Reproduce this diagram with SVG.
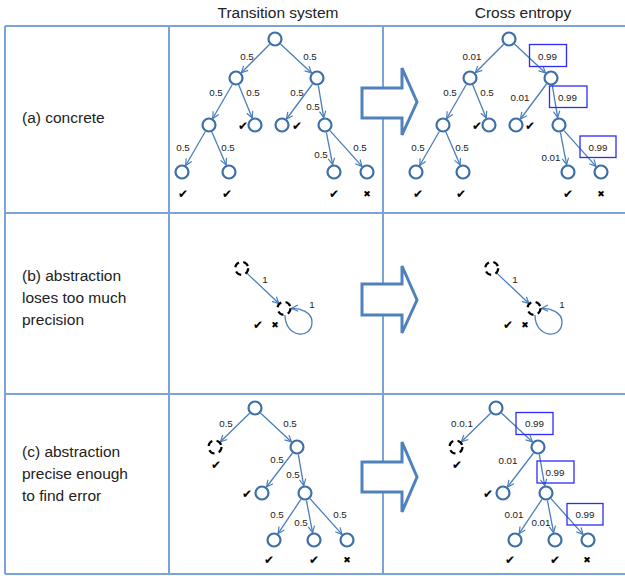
<svg xmlns="http://www.w3.org/2000/svg" width="625" height="576" viewBox="0 0 625 576">
<style>
.grid{stroke:#7aa3d8;stroke-width:2;fill:none}
.n{fill:#fff;stroke:#3d6fa8;stroke-width:2.2}
.d{fill:#fff;stroke:#000;stroke-width:2.2;stroke-dasharray:6 4.5}
.e{stroke:#4a7ebb;stroke-width:1.3;fill:none;marker-end:url(#ah)}
.big{fill:#fff;stroke:#4f81bd;stroke-width:3;stroke-linejoin:miter}
.box{fill:none;stroke:#2b2bff;stroke-width:1.3}
text{font-family:"Liberation Sans",Arial,sans-serif;fill:#222}
.hd{font-size:15.5px;text-anchor:middle}
.rl{font-size:15.5px}
.p{font-size:9.8px;text-anchor:middle}
.ck{font-family:"DejaVu Sans",sans-serif;font-size:12px;text-anchor:middle;fill:#000}
.x{font-family:"DejaVu Sans",sans-serif;font-size:9px;text-anchor:middle;fill:#000}
</style>
<defs>
<marker id="ah" markerUnits="userSpaceOnUse" markerWidth="10" markerHeight="10" refX="7.5" refY="4" orient="auto">
<path d="M1,0.8 L7.5,4 L1,7.2" fill="none" stroke="#4a7ebb" stroke-width="1.2"/>
</marker>
</defs>

<g id="table">
<line class="grid" x1="5" y1="26" x2="625" y2="26"/>
<line class="grid" x1="5" y1="213" x2="625" y2="213"/>
<line class="grid" x1="5" y1="394" x2="625" y2="394"/>
<line class="grid" x1="5" y1="574" x2="625" y2="574"/>
<line class="grid" x1="5" y1="26" x2="5" y2="574"/>
<line class="grid" x1="169" y1="26" x2="169" y2="574"/>
<line class="grid" x1="383" y1="26" x2="383" y2="574"/>
</g>

<g id="headers">
<text class="hd" x="278" y="18">Transition system</text>
<text class="hd" x="523" y="18">Cross entropy</text>
</g>

<g id="row-labels">
<text class="rl" x="22" y="123">(a) concrete</text>
<text class="rl" x="22" y="281">(b) abstraction</text>
<text class="rl" x="22" y="303">loses too much</text>
<text class="rl" x="22" y="325">precision</text>
<text class="rl" x="22" y="457">(c) abstraction</text>
<text class="rl" x="22" y="479">precise enough</text>
<text class="rl" x="22" y="501">to find error</text>
</g>

<g id="big-arrows">
<path class="big" d="M362,88 L402,88 L402,68 L417,102 L402,135 L402,118 L362,118 Z"/>
<path class="big" d="M362,284 L402,284 L402,266 L417,300 L402,333 L402,315 L362,315 Z"/>
<path class="big" d="M362,462 L402,462 L402,442 L417,477 L402,512 L402,492 L362,492 Z"/>
</g>

<g id="connectors">
<line class="e" x1="269.7" y1="44.3" x2="241.3" y2="72.7"/>
<line class="e" x1="280.5" y1="44.1" x2="311.5" y2="72.9"/>
<line class="e" x1="232.3" y1="84.5" x2="212.7" y2="118.5"/>
<line class="e" x1="238.8" y1="85" x2="252.2" y2="118"/>
<line class="e" x1="312.5" y1="84" x2="286.5" y2="119"/>
<line class="e" x1="318.3" y1="85.4" x2="323.7" y2="117.6"/>
<line class="e" x1="205.3" y1="131.5" x2="185.7" y2="165.5"/>
<line class="e" x1="211.9" y1="131.9" x2="226.1" y2="165.1"/>
<line class="e" x1="326.4" y1="132.4" x2="332.6" y2="164.6"/>
<line class="e" x1="330" y1="130.6" x2="362" y2="166.4"/>
<line class="e" x1="503.7" y1="44.3" x2="475.3" y2="72.7"/>
<line class="e" x1="514.5" y1="44.1" x2="545.5" y2="72.9"/>
<line class="e" x1="466.3" y1="84.5" x2="446.7" y2="118.5"/>
<line class="e" x1="472.8" y1="85" x2="486.2" y2="118"/>
<line class="e" x1="546.5" y1="84" x2="520.5" y2="119"/>
<line class="e" x1="552.3" y1="85.4" x2="557.7" y2="117.6"/>
<line class="e" x1="439.3" y1="131.5" x2="419.7" y2="165.5"/>
<line class="e" x1="445.9" y1="131.9" x2="460.1" y2="165.1"/>
<line class="e" x1="560.4" y1="132.4" x2="566.6" y2="164.6"/>
<line class="e" x1="564" y1="130.6" x2="596" y2="166.4"/>
<line class="e" x1="246.8" y1="273.1" x2="278.9" y2="303.5"/>
<path class="e" d="M285,315 C285,338 312,340 312,322 C312,312 300,308 291.5,308.5"/>
<line class="e" x1="496.8" y1="273.1" x2="528.9" y2="303.5"/>
<path class="e" d="M535,315 C535,338 562,340 562,322 C562,312 550,308 541.5,308.5"/>
<line class="e" x1="249.6" y1="413.2" x2="220.4" y2="441.8"/>
<line class="e" x1="260.5" y1="413.1" x2="291.5" y2="441.9"/>
<line class="e" x1="292.5" y1="453" x2="266.5" y2="487"/>
<line class="e" x1="298.3" y1="454.4" x2="303.7" y2="485.6"/>
<line class="e" x1="300.9" y1="499.3" x2="278.1" y2="533.7"/>
<line class="e" x1="306.4" y1="500.4" x2="312.6" y2="532.6"/>
<line class="e" x1="310" y1="498.6" x2="342" y2="534.4"/>
<line class="e" x1="490.6" y1="413.2" x2="461.4" y2="441.8"/>
<line class="e" x1="501.5" y1="413.1" x2="532.5" y2="441.9"/>
<line class="e" x1="533.5" y1="453" x2="507.5" y2="487"/>
<line class="e" x1="539.3" y1="454.4" x2="544.7" y2="485.6"/>
<line class="e" x1="541.9" y1="499.3" x2="519.1" y2="533.7"/>
<line class="e" x1="547.4" y1="500.4" x2="553.6" y2="532.6"/>
<line class="e" x1="551" y1="498.6" x2="583" y2="534.4"/>
</g>

<g id="edge-labels">
<text class="p" x="247" y="59.5">0.5</text>
<text class="p" x="310" y="59.5">0.5</text>
<text class="p" x="216" y="95.5">0.5</text>
<text class="p" x="253" y="95.5">0.5</text>
<text class="p" x="297" y="95.5">0.5</text>
<text class="p" x="313" y="109.5">0.5</text>
<text class="p" x="183" y="150.5">0.5</text>
<text class="p" x="228" y="150.5">0.5</text>
<text class="p" x="321" y="157.5">0.5</text>
<text class="p" x="360" y="150.5">0.5</text>

<text class="p" x="472" y="59.5">0.01</text>
<rect class="box" x="529.5" y="44.5" width="37" height="22"/>
<text class="p" x="547.5" y="59.5">0.99</text>
<text class="p" x="450" y="95.5">0.5</text>
<text class="p" x="487" y="95.5">0.5</text>
<text class="p" x="520" y="100.5">0.01</text>
<rect class="box" x="549.5" y="86" width="37.5" height="21.5"/>
<text class="p" x="567.5" y="100.5">0.99</text>
<text class="p" x="418" y="150.5">0.5</text>
<text class="p" x="462" y="150.5">0.5</text>
<text class="p" x="551" y="160.5">0.01</text>
<rect class="box" x="580" y="136" width="36" height="21.5"/>
<text class="p" x="598" y="150.5">0.99</text>

<text class="p" x="265" y="282.5">1</text>
<text class="p" x="312" y="307.5">1</text>
<text class="p" x="515" y="282.5">1</text>
<text class="p" x="562" y="307.5">1</text>

<text class="p" x="226" y="426.5">0.5</text>
<text class="p" x="290" y="426.5">0.5</text>
<text class="p" x="277" y="462.5">0.5</text>
<text class="p" x="293" y="477.5">0.5</text>
<text class="p" x="277" y="517.5">0.5</text>
<text class="p" x="301" y="525.5">0.5</text>
<text class="p" x="340" y="517.5">0.5</text>

<text class="p" x="462" y="426.5">0.0.1</text>
<rect class="box" x="516" y="412.5" width="37" height="22"/>
<text class="p" x="534.5" y="426.5">0.99</text>
<text class="p" x="508" y="463.5">0.01</text>
<rect class="box" x="537" y="461" width="37" height="22"/>
<text class="p" x="555" y="475.5">0.99</text>
<text class="p" x="514" y="517.5">0.01</text>
<text class="p" x="541" y="525.5">0.01</text>
<rect class="box" x="567" y="503.5" width="36" height="21.5"/>
<text class="p" x="585" y="517.5">0.99</text>
</g>

<g id="marks">
<text class="ck" x="183" y="197.5">✔</text>
<text class="ck" x="227" y="197.5">✔</text>
<text class="ck" x="334" y="197.5">✔</text>
<text class="x" x="367" y="196.5">✖</text>
<text class="ck" x="243" y="129.5">✔</text>
<text class="ck" x="297" y="129.5">✔</text>
<text class="ck" x="418" y="197.5">✔</text>
<text class="ck" x="461" y="197.5">✔</text>
<text class="ck" x="568" y="197.5">✔</text>
<text class="x" x="601" y="196.5">✖</text>
<text class="ck" x="477" y="129.5">✔</text>
<text class="ck" x="530" y="129.5">✔</text>
<text class="ck" x="258" y="328.5">✔</text>
<text class="x" x="275" y="327.5">✖</text>
<text class="ck" x="508" y="328.5">✔</text>
<text class="x" x="525" y="327.5">✖</text>
<text class="ck" x="216" y="468.5">✔</text>
<text class="ck" x="247" y="497.5">✔</text>
<text class="ck" x="269" y="563.5">✔</text>
<text class="ck" x="314" y="563.5">✔</text>
<text class="x" x="347" y="562.5">✖</text>
<text class="ck" x="457" y="468.5">✔</text>
<text class="ck" x="488" y="497.5">✔</text>
<text class="ck" x="510" y="563.5">✔</text>
<text class="ck" x="555" y="563.5">✔</text>
<text class="x" x="587" y="562.5">✖</text>
</g>

<g id="tm-root"><circle class="n" cx="275" cy="39" r="6.5"/></g>
<g id="tm-a"><circle class="n" cx="236" cy="78" r="6.5"/></g>
<g id="tm-b"><circle class="n" cx="317" cy="78" r="6.5"/></g>
<g id="tm-a1"><circle class="n" cx="209" cy="125" r="6.5"/></g>
<g id="tm-a2"><circle class="n" cx="255" cy="125" r="6.5"/></g>
<g id="tm-b1"><circle class="n" cx="282" cy="125" r="6.5"/></g>
<g id="tm-b2"><circle class="n" cx="325" cy="125" r="6.5"/></g>
<g id="tm-a11"><circle class="n" cx="182" cy="172" r="6.5"/></g>
<g id="tm-a12"><circle class="n" cx="229" cy="172" r="6.5"/></g>
<g id="tm-b21"><circle class="n" cx="334" cy="172" r="6.5"/></g>
<g id="tm-b22"><circle class="n" cx="367" cy="172" r="6.5"/></g>

<g id="tr-root"><circle class="n" cx="509" cy="39" r="6.5"/></g>
<g id="tr-a"><circle class="n" cx="470" cy="78" r="6.5"/></g>
<g id="tr-b"><circle class="n" cx="551" cy="78" r="6.5"/></g>
<g id="tr-a1"><circle class="n" cx="443" cy="125" r="6.5"/></g>
<g id="tr-a2"><circle class="n" cx="489" cy="125" r="6.5"/></g>
<g id="tr-b1"><circle class="n" cx="516" cy="125" r="6.5"/></g>
<g id="tr-b2"><circle class="n" cx="559" cy="125" r="6.5"/></g>
<g id="tr-a11"><circle class="n" cx="416" cy="172" r="6.5"/></g>
<g id="tr-a12"><circle class="n" cx="463" cy="172" r="6.5"/></g>
<g id="tr-b21"><circle class="n" cx="568" cy="172" r="6.5"/></g>
<g id="tr-b22"><circle class="n" cx="601" cy="172" r="6.5"/></g>

<g id="mm-s0"><circle class="d" cx="241.7" cy="268.3" r="6.5"/></g>
<g id="mm-s1"><circle class="d" cx="284" cy="308.3" r="6.5"/></g>
<g id="mr-s0"><circle class="d" cx="491.7" cy="268.3" r="6.5"/></g>
<g id="mr-s1"><circle class="d" cx="534" cy="308.3" r="6.5"/></g>

<g id="bm-root"><circle class="n" cx="255" cy="408" r="6.5"/></g>
<g id="bm-d"><circle class="d" cx="215" cy="447" r="6.5"/></g>
<g id="bm-e"><circle class="n" cx="297" cy="447" r="6.5"/></g>
<g id="bm-e1"><circle class="n" cx="262" cy="493" r="6.5"/></g>
<g id="bm-e2"><circle class="n" cx="305" cy="493" r="6.5"/></g>
<g id="bm-f1"><circle class="n" cx="274" cy="540" r="6.5"/></g>
<g id="bm-f2"><circle class="n" cx="314" cy="540" r="6.5"/></g>
<g id="bm-f3"><circle class="n" cx="347" cy="540" r="6.5"/></g>

<g id="br-root"><circle class="n" cx="496" cy="408" r="6.5"/></g>
<g id="br-d"><circle class="d" cx="456" cy="447" r="6.5"/></g>
<g id="br-e"><circle class="n" cx="538" cy="447" r="6.5"/></g>
<g id="br-e1"><circle class="n" cx="503" cy="493" r="6.5"/></g>
<g id="br-e2"><circle class="n" cx="546" cy="493" r="6.5"/></g>
<g id="br-f1"><circle class="n" cx="515" cy="540" r="6.5"/></g>
<g id="br-f2"><circle class="n" cx="555" cy="540" r="6.5"/></g>
<g id="br-f3"><circle class="n" cx="588" cy="540" r="6.5"/></g>
</svg>
